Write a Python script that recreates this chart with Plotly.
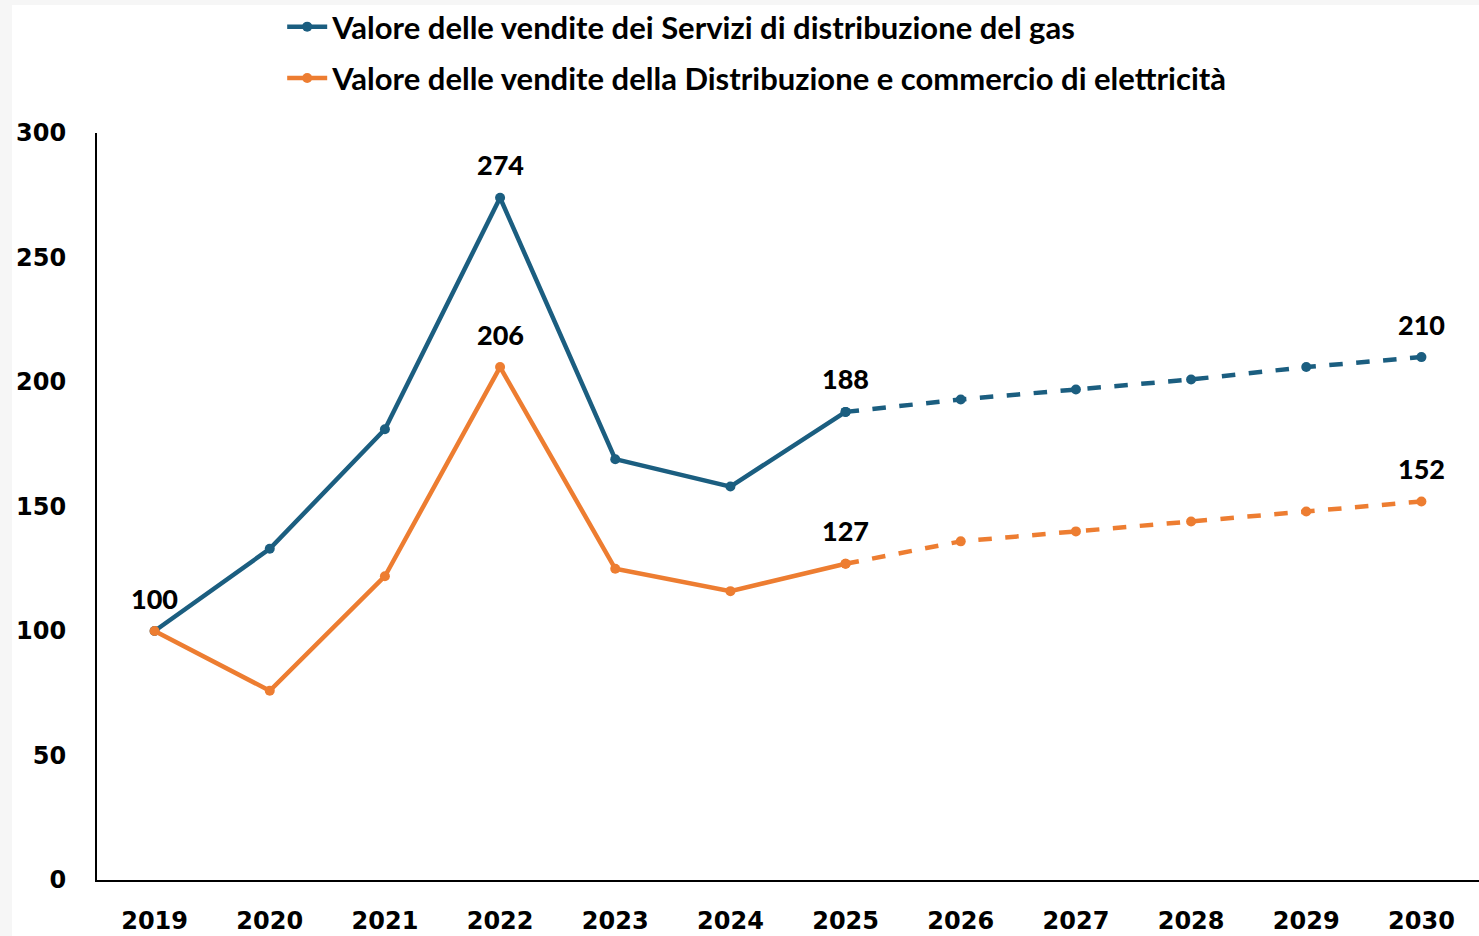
import plotly.graph_objects as go

years = ["2019", "2020", "2021", "2022", "2023", "2024", "2025",
         "2026", "2027", "2028", "2029", "2030"]
gas = [100, 133, 181, 274, 169, 158, 188, 193, 197, 201, 206, 210]
ele = [100, 76, 122, 206, 125, 116, 127, 136, 140, 144, 148, 152]
gas_name = "Valore delle vendite dei Servizi di distribuzione del gas"
ele_name = "Valore delle vendite della Distribuzione e commercio di elettricità"
label_idx = [0, 3, 6, 11]

GAS_C = "#1b5e80"
ELE_C = "#ed7d31"
split = 6  # index of 2025: last actual year

W, H = 1479, 936
ML, MR, MT, MB = 97, 0, 133, 56
PW, PH = W - ML - MR, H - MT - MB

fig = go.Figure()
for name, vals, col in [(gas_name, gas, GAS_C), (ele_name, ele, ELE_C)]:
    fig.add_trace(go.Scatter(
        x=years[:split + 1], y=vals[:split + 1], name=name, mode="lines+markers",
        line=dict(color=col, width=4.5), marker=dict(size=10, color=col),
        legendgroup=name, showlegend=True))
    fig.add_trace(go.Scatter(
        x=years[split:], y=vals[split:], name=name, mode="lines+markers",
        line=dict(color=col, width=4.5, dash="dash"), marker=dict(size=10, color=col),
        legendgroup=name, showlegend=False))

for vals in (gas, ele):
    for i in label_idx:
        if vals is ele and i == 0:
            continue
        fig.add_annotation(x=i, y=vals[i], xref="x", yref="y", text=str(vals[i]),
                           showarrow=False, yshift=33,
                           font=dict(family="Lato", size=27, color="black", weight=900))

# light grey frame strips (left and top) as in the source image
fig.add_shape(type="rect", xref="paper", yref="paper", layer="below",
              x0=-ML / PW, x1=(12 - ML) / PW, y0=-MB / PH, y1=1.0 + MT / PH,
              fillcolor="#f6f6f6", line_width=0)
fig.add_shape(type="rect", xref="paper", yref="paper", layer="below",
              x0=-ML / PW, x1=1.0, y0=1.0 + (MT - 5) / PH, y1=1.0 + MT / PH,
              fillcolor="#f6f6f6", line_width=0)

fig.update_layout(
    width=W, height=H,
    paper_bgcolor="white", plot_bgcolor="white",
    margin=dict(l=ML, r=MR, t=MT, b=MB),
    showlegend=True,
    legend=dict(x=0.134, xref="paper", y=1.0, yref="container", xanchor="left", yanchor="top",
                font=dict(family="Lato", size=31, color="black", weight="bold"),
                tracegroupgap=8, itemwidth=40, bgcolor="rgba(0,0,0,0)"),
    xaxis=dict(type="category", range=[-0.5, 11.5], showgrid=False, showline=True,
               linecolor="black", linewidth=2, ticks="", ticklabelstandoff=18,
               tickfont=dict(family="DejaVu Sans", size=24, color="black", weight="bold")),
    yaxis=dict(range=[0, 300], dtick=50, showgrid=False, showline=True, linecolor="black",
               linewidth=2, ticks="", zeroline=False, ticklabelstandoff=24,
               tickfont=dict(family="DejaVu Sans", size=24, color="black", weight="bold")),
)

fig.write_html("out.html", config={"displayModeBar": False},
               post_script="document.body.style.margin='0';")
